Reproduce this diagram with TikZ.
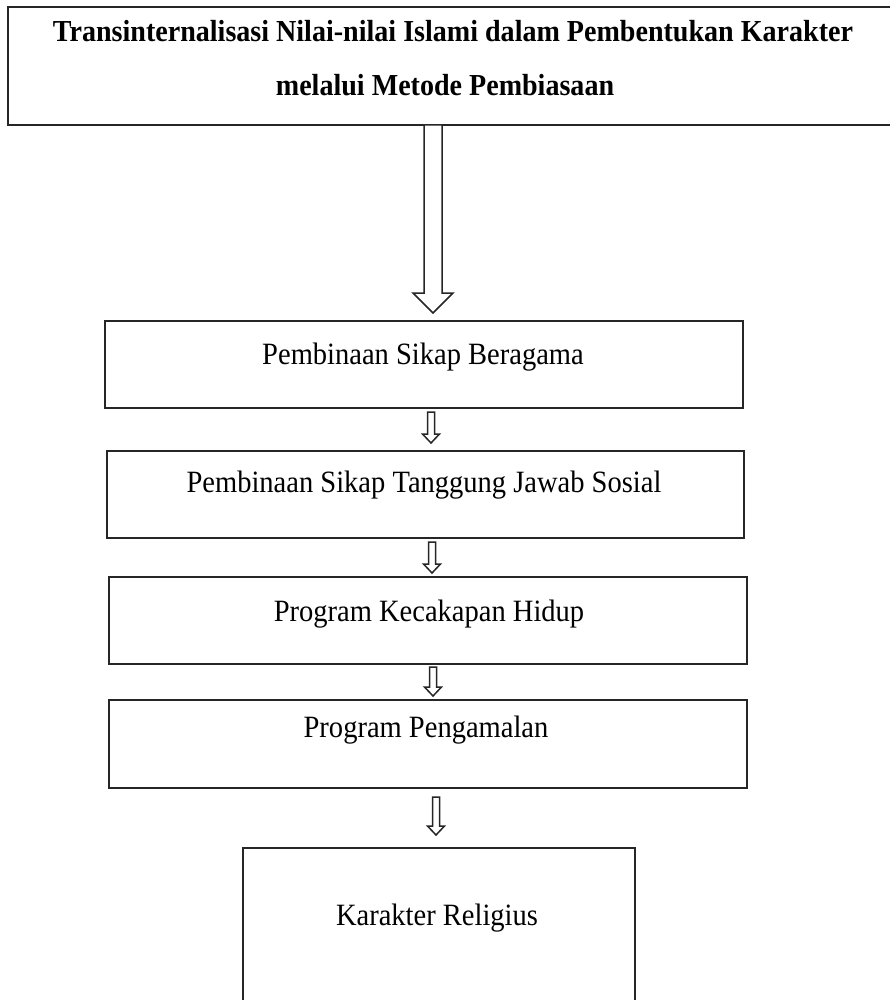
\documentclass[tikz,border=0pt]{standalone}
\usepackage{fontspec}
\setmainfont{Liberation Serif}[FakeStretch=0.92]
\usetikzlibrary{calc}
\tikzset{
  box/.style={draw=black!85, line width=1.8pt, fill=white, inner sep=0pt},
  lbl/.style={anchor=base, inner sep=0pt, font=\fontsize{31}{36}\selectfont},
  ttl/.style={anchor=base, inner sep=0pt, font=\fontsize{30.5}{36}\selectfont\bfseries},
  arr/.style={draw=black!85, line width=1.5pt, fill=white, line join=miter},
}
% x, y of shaft top, y of tip, shaft half width, head half width, head length
\newcommand\hollowdown[6]{%
  \draw[arr] (#1-#4,#2) -- (#1-#4,#3-#6) -- (#1-#5,#3-#6) -- (#1,#3)
    -- (#1+#5,#3-#6) -- (#1+#4,#3-#6) -- (#1+#4,#2) -- cycle;}
\begin{document}
\begin{tikzpicture}[x=1pt,y=-1pt]
\useasboundingbox (0,0) rectangle (889,1000);
\fill[white] (0,0) rectangle (889,1000);
% top box
\node[box, minimum width=889pt, minimum height=118pt] (top) at (452.5,66) {};
\node[ttl] (t1) at (453,42) {Transinternalisasi Nilai-nilai Islami dalam Pembentukan Karakter};
\node[ttl] (t2) at (445,96) {melalui Metode Pembiasaan};
% boxes
\node[box, minimum width=638pt, minimum height=87pt] (b2) at (424,364.5) {};
\node[lbl] (l2) at (423,364) {Pembinaan Sikap Beragama};
\node[box, minimum width=637pt, minimum height=87pt] (b3) at (425.5,494.5) {};
\node[lbl] (l3) at (424,492) {Pembinaan Sikap Tanggung Jawab Sosial};
\node[box, minimum width=638pt, minimum height=87pt] (b4) at (428,620.5) {};
\node[lbl] (l4) at (429,621) {Program Kecakapan Hidup};
\node[box, minimum width=638pt, minimum height=88pt] (b5) at (428,744) {};
\node[lbl] (l5) at (426,737) {Program Pengamalan};
\node[box, minimum width=392pt, minimum height=164pt] (b6) at (439,930) {};
\node[lbl] (l6) at (437,925) {Karakter Religius};
% arrows
\hollowdown{433}{125}{313}{9}{20}{20}
\hollowdown{431}{412}{443}{3.5}{8.5}{9}
\hollowdown{432}{542}{573}{3.5}{8.5}{9}
\hollowdown{433}{667}{696}{3.5}{8.5}{9}
\hollowdown{436}{797}{835}{3.5}{8.5}{9}
\end{tikzpicture}
\end{document}
